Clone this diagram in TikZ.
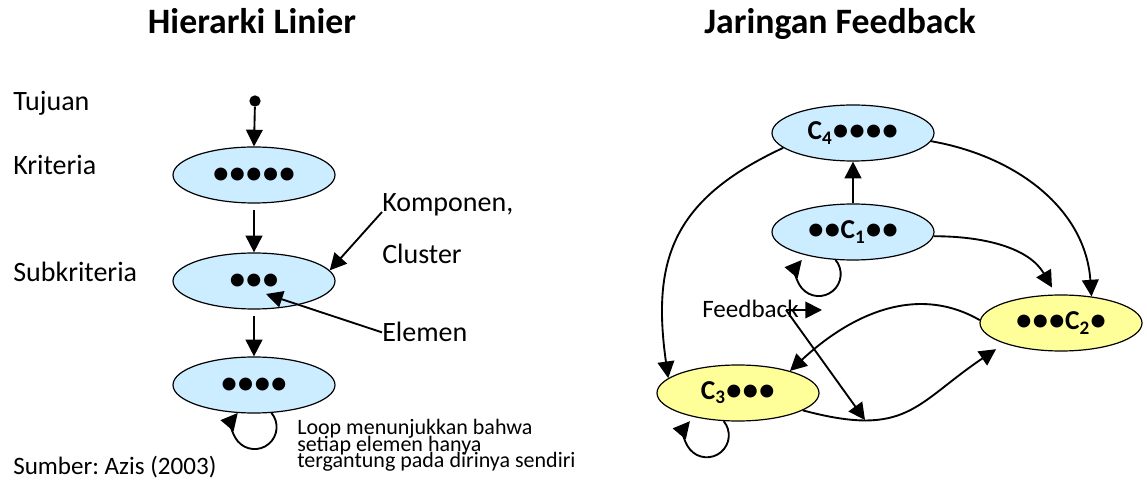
\documentclass[tikz,border=0pt]{standalone}
\usepackage{fontspec}
\setmainfont{Carlito}
\usetikzlibrary{arrows.meta,shapes}
\definecolor{hlblue}{RGB}{204,236,255}
\definecolor{hlyellow}{RGB}{255,255,153}
\tikzstyle{compnode} = [ellipse, minimum width=121.5pt, minimum height=42pt, inner sep=0pt, draw=black, line width=0.9pt, font=\fontsize{20.5}{24}\selectfont\bfseries]
\tikzstyle{arrow} = [line width=1.4pt, -{Triangle[length=12.5pt,width=12.5pt]}]
\tikzstyle{sidetext} = [anchor=base west, inner sep=0pt, font=\fontsize{21}{25}\selectfont]
\tikzstyle{heading} = [anchor=base, inner sep=0pt, font=\fontsize{26.8}{32}\selectfont\bfseries]
\frenchspacing

\begin{document}
\begin{tikzpicture}[x=0.75pt, y=0.75pt]
\useasboundingbox (0,0) rectangle (1147,482);

% Titles
\node[heading] (tleft) at (252,448) {Hierarki Linier};
\node[heading] (tright) at (840,448) {Jaringan Feedback};

% Linear hierarchy
\node[sidetext] (tujuan) at (13,371) {Tujuan};
\node[sidetext] (kriteria) at (13,307) {Kriteria};
\node[sidetext] (subkriteria) at (13,200) {Subkriteria};
\node[circle, fill=black, inner sep=0pt, minimum size=8.5pt] (goal) at (255,381) {};
\node[compnode, fill=hlblue] (krit) at (254,307) {●●●●●};
\node[compnode, fill=hlblue] (subk) at (254,201) {●●●};
\node[compnode, fill=hlblue] (alt) at (254,97) {●●●●};
\draw[arrow] (goal) -- (krit.north);
\draw[arrow, shorten <=5pt] (krit.south) -- (subk.north);
\draw[arrow, shorten <=4.5pt] (subk.south) -- (alt.north);
\draw[arrow] (alt.-58) arc[start angle=40, end angle=-220, radius=22];

% Pointers to cluster and element
\node[sidetext] (komponen) at (382,270) {Komponen,};
\node[sidetext] (clusterlbl) at (382,218) {Cluster};
\node[sidetext] (elemen) at (382,140) {Elemen};
\coordinate (elemtip) at (266,188);
\draw[arrow] (komponen.base west) -- (subk.8);
\draw[arrow] (elemen.west) -- (elemtip);

% Notes
\node[anchor=north west, inner sep=0pt, align=left, font={\fontsize{16.5}{12.4}\selectfont\lineskiplimit=-20pt\relax}] (loopnote) at (297,63) {Loop menunjukkan bahwa\\setiap elemen hanya\\tergantung pada dirinya sendiri};
\node[sidetext, font=\fontsize{18.8}{22}\selectfont] (sumber) at (13,7) {Sumber: Azis (2003)};

% Feedback network
\node[compnode, fill=hlblue] (c4) at (853,349) {C\textsubscript{4}●●●●};
\node[compnode, fill=hlblue] (c1) at (853,250) {●●C\textsubscript{1}●●};
\node[compnode, fill=hlyellow] (c2) at (1061,159) {●●●C\textsubscript{2}●};
\node[compnode, fill=hlyellow] (c3) at (738,89) {C\textsubscript{3}●●●};
\draw[arrow] (c1.north) -- (c4.south);
\draw[arrow] (c1.-122) arc[start angle=40, end angle=-220, radius=22];
\draw[arrow] (c3.-117) arc[start angle=40, end angle=-220, radius=22];
\draw[arrow] (c4.192) to[out=205, in=98, looseness=1.2] (c3.168);
\draw[arrow] (c4.-6) to[out=-10, in=94] (c2.41);
\draw[arrow, shorten >=6pt] (c1.-3) to[out=0, in=120] (c2.100);
\draw[arrow] (c2.178) to[out=150, in=43] (c3.23);
\draw[arrow, shorten >=7.5pt] (c3.-15) to[out=-15, in=214, looseness=1.3] (c2.200);

% Feedback label
\node[sidetext, font=\fontsize{18.8}{22}\selectfont] (feedback) at (702,164) {Feedback};
\coordinate (fbsrc) at (786,172);
\coordinate (fbright) at (822,172);
\coordinate (fbdown) at (865,62);
\draw[arrow] (fbsrc) -- (fbright);
\draw[arrow] (fbsrc) -- (fbdown);
\end{tikzpicture}
\end{document}
